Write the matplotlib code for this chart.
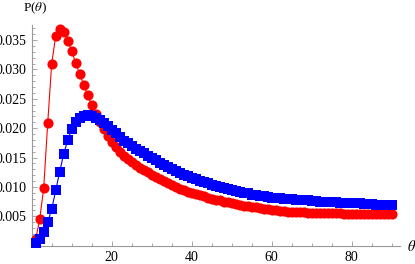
import matplotlib
matplotlib.use("Agg")
import matplotlib.pyplot as plt
from matplotlib.ticker import MultipleLocator, FixedLocator

plt.rcParams["mathtext.fontset"] = "stix"

theta = list(range(1, 91))

p_red = [0.0011, 0.0045, 0.0098, 0.0208, 0.0310, 0.0357, 0.0369, 0.0364, 0.0349, 0.0331,
         0.0311, 0.0292, 0.0274, 0.0256, 0.0239, 0.0224, 0.0210, 0.0198, 0.0187, 0.0177,
         0.0168, 0.0160, 0.0153, 0.0147, 0.0142, 0.0137, 0.0133, 0.0129, 0.0125, 0.0121,
         0.0117, 0.0113, 0.0110, 0.0107, 0.0104, 0.0100, 0.0097, 0.0094, 0.0092, 0.0090,
         0.0088, 0.0086, 0.0084, 0.0082, 0.0080, 0.0078, 0.0077, 0.0075, 0.0074, 0.0072,
         0.0071, 0.0070, 0.0068, 0.0067, 0.0066, 0.0065, 0.0064, 0.0063, 0.0062, 0.0061,
         0.0060, 0.0059, 0.0059, 0.0058, 0.0058, 0.0057, 0.0057, 0.0057, 0.0056, 0.0056,
         0.0056, 0.0055, 0.0055, 0.0055, 0.0055, 0.0055, 0.0055, 0.0054, 0.0054, 0.0054,
         0.0054, 0.0054, 0.0054, 0.0054, 0.0054, 0.0054, 0.0054, 0.0054, 0.0054, 0.0054]

p_blue = [0.0004, 0.0011, 0.0024, 0.0040, 0.0062, 0.0094, 0.0126, 0.0156, 0.0180, 0.0198,
          0.0210, 0.0218, 0.0221, 0.0222, 0.0221, 0.0218, 0.0214, 0.0209, 0.0203, 0.0197,
          0.0191, 0.0185, 0.0179, 0.0174, 0.0169, 0.0165, 0.0161, 0.0157, 0.0153, 0.0149,
          0.0145, 0.0141, 0.0137, 0.0134, 0.0130, 0.0127, 0.0124, 0.0121, 0.0118, 0.0115,
          0.0113, 0.0110, 0.0108, 0.0106, 0.0104, 0.0102, 0.0100, 0.0098, 0.0096, 0.0094,
          0.0093, 0.0091, 0.0090, 0.0089, 0.0087, 0.0086, 0.0085, 0.0084, 0.0083, 0.0082,
          0.0081, 0.0081, 0.0080, 0.0079, 0.0079, 0.0078, 0.0078, 0.0077, 0.0077, 0.0076,
          0.0076, 0.0075, 0.0075, 0.0074, 0.0074, 0.0074, 0.0073, 0.0073, 0.0073, 0.0072,
          0.0072, 0.0072, 0.0071, 0.0071, 0.0071, 0.0070, 0.0070, 0.0070, 0.0070, 0.0069]

x_ticks = [20, 40, 60, 80]
y_ticks = [0.005, 0.010, 0.015, 0.020, 0.025, 0.030, 0.035]
y_labels = ["0.005", "0.010", "0.015", "0.020", "0.025", "0.030", "0.035"]

W, H = 415, 264
fig = plt.figure(figsize=(W / 100, H / 100), dpi=100)
left_px, bottom_px = 31.7, 264 - 245.7
xmax, ymax = 92.0, 0.0376
width_px = xmax * 4.0
height_px = ymax * 5877
ax = fig.add_axes([left_px / W, bottom_px / H, width_px / W, height_px / H])

ax.plot(theta, p_red, color="#ff0000", lw=0.8, marker="o", ms=7.3,
        markeredgewidth=0, clip_on=False, zorder=3)
ax.plot(theta, p_blue, color="#0000ff", lw=0.8, marker="s", ms=6.6,
        markeredgewidth=0, clip_on=False, zorder=4)

ax.set_xlim(0, xmax)
ax.set_ylim(0, ymax)

for s in ["top", "right"]:
    ax.spines[s].set_visible(False)
for s in ["left", "bottom"]:
    ax.spines[s].set_color("#999999")
    ax.spines[s].set_linewidth(0.8)

ax.xaxis.set_major_locator(FixedLocator(x_ticks))
ax.xaxis.set_minor_locator(MultipleLocator(5))
ax.yaxis.set_major_locator(FixedLocator(y_ticks))
ax.yaxis.set_minor_locator(MultipleLocator(0.001))
ax.set_yticklabels(y_labels)

ax.tick_params(which="both", direction="in", color="#999999", width=0.6,
               labelsize=10, labelcolor="black")
ax.tick_params(which="major", length=3.5)
ax.tick_params(which="minor", length=2)
ax.tick_params(axis="x", pad=4)
ax.tick_params(axis="y", pad=4)
for lab in ax.get_xticklabels() + ax.get_yticklabels():
    lab.set_fontfamily("Liberation Serif")

fig.text(35 / W, 1 - 8 / H, "P($\\theta$)", ha="center", va="center",
         fontsize=9.5, family="Liberation Serif")
fig.text(411.5 / W, 1 - 246.7 / H, "$\\theta$", ha="center", va="center",
         fontsize=10.5, family="Liberation Serif")

fig.savefig("out.png", dpi=100)
